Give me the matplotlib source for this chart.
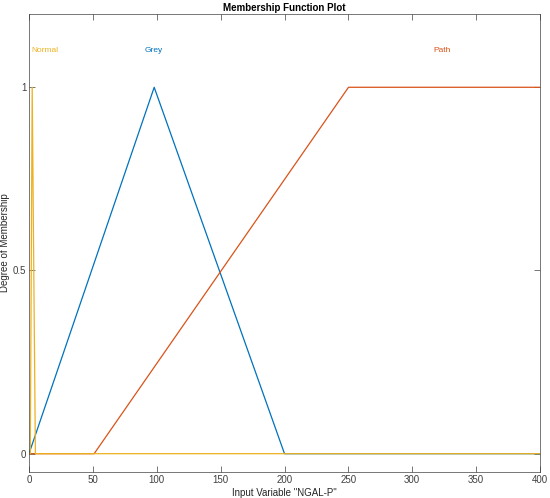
import matplotlib.pyplot as plt
import numpy as np

plt.rcParams['font.family'] = ['Liberation Sans', 'DejaVu Sans']

# membership functions for input "NGAL-P"
x_range = [0, 400]
normal_pts = [1, 2.5, 5]          # trimf
grey_pts = [0, 98, 200]           # trimf
path_pts = [51, 250, 400, 400]    # trapmf
mf_names = ["Normal", "Grey", "Path"]
label_x = [12.5, 98, 323]
label_y = 1.1

c_blue = (0.0, 0.447, 0.741)
c_orange = (0.85, 0.325, 0.098)
c_yellow = (0.929, 0.694, 0.125)


def trimf(x, a, b, c):
    y = np.zeros_like(x)
    up = (x >= a) & (x <= b)
    dn = (x > b) & (x <= c)
    y[up] = (x[up] - a) / (b - a) if b > a else 1.0
    y[dn] = (c - x[dn]) / (c - b)
    return y


def trapmf(x, a, b, c, d):
    y = np.zeros_like(x)
    up = (x >= a) & (x < b)
    y[up] = (x[up] - a) / (b - a)
    y[(x >= b) & (x <= c)] = 1.0
    if d > c:
        dn = (x > c) & (x <= d)
        y[dn] = (d - x[dn]) / (d - c)
    return y


xs = np.linspace(x_range[0], x_range[1], 4001)

fig = plt.figure(figsize=(5.5, 4.98), dpi=100)
ax = fig.add_axes([29 / 550, 26 / 498, 511 / 550, 458 / 498])

ax.plot(xs, trimf(xs, *grey_pts), color=c_blue, lw=0.9)
ax.plot(xs, trapmf(xs, *path_pts), color=c_orange, lw=0.9)
ax.plot(xs, trimf(xs, *normal_pts), color=c_yellow, lw=0.9)

for name, lx, col in zip(mf_names, label_x, [c_yellow, c_blue, c_orange]):
    ax.text(lx, label_y, name, color=col, ha='center', va='center', fontsize=6)

ax.set_xlim(x_range)
ax.set_ylim(-0.05, 1.2)
ax.set_xticks(np.arange(0, 401, 50))
ax.set_yticks([0, 0.5, 1])
ax.set_yticklabels(['0', '0.5', '1'])
ax.tick_params(direction='in', top=True, right=True, labelsize=7,
               colors='#404040', length=4, width=0.5, pad=2)
for s in ax.spines.values():
    s.set_color('#404040')
    s.set_linewidth(0.5)
ax.set_xlabel('Input Variable "NGAL-P"', fontsize=7, color='#262626')
ax.set_ylabel('Degree of Membership', fontsize=7, color='#262626')
ax.xaxis.set_label_coords(0.5, -0.035)
ax.yaxis.set_label_coords(-0.037, 0.5)
ax.set_title('Membership Function Plot', fontsize=7, fontweight='bold', pad=2)

fig.savefig('out.png', dpi=100)
